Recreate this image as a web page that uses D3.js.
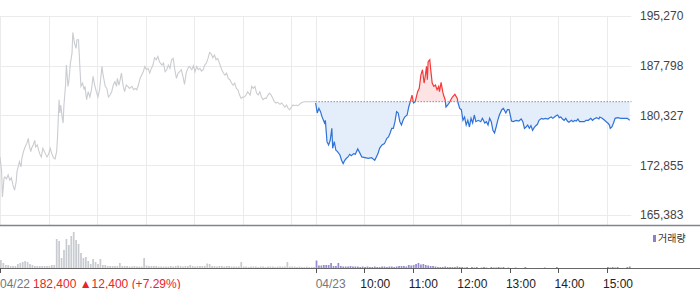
<!DOCTYPE html>
<html>
<head>
<meta charset="utf-8">
<title>intraday</title>
<script src="https://d3js.org/d3.v7.min.js"></script>
<style>
  body { margin: 0; background: #fff; }
  svg { display: block; font-family: "Liberation Sans", Arial, sans-serif; }
</style>
</head>
<body>
<div id="chart"></div>
<script>
// ---------------- data ----------------
const priceTicks = [165383, 172855, 180327, 187798, 195270];
const basePrice = 182400;              // dotted reference line (04/22 close)
const hourLabels = ["10:00", "11:00", "12:00", "13:00", "14:00", "15:00"];
const dayLabels = ["04/22", "04/23"];
const summaryText = "182,400 \u25B212,400 (+7.29%)";
const volumeLegend = "거래량";

// minutes after 09:00, 04/22
const day1Min = [0,2,3,5,6,8,10,12,14,16,18,20,21,24,26,27,29,31,33,35,36,38,39,41,43,44,46,48,49,51,
  53,56,58,60,62,64,66,68,70,71,73,74,75,77,78,79,81,82,84,85,87,89,90,92,94,95,97,99,100,102,
  104,105,107,109,111,113,115,117,119,121,123,126,127,130,132,134,136,138,140,142,144,145,147,148,150,152,154,156,158,160,
  163,165,167,169,171,173,175,177,179,181,183,185,187,189,191,193,195,197,200,202,204,206,208,210,212,214,216,218,220,222,
  224,226,228,230,232,234,237,239,241,243,245,247,249,251,253,255,257,259,261,263,265,267,269,272,274,276,278,280,282,284,
  286,288,290,292,294,296,298,300,302,304,306,309,311,313,315,317,319,321,323,325,327,329,331,333,335,337,339,341,343,346,
  348,350,352,354,356,358,360,362,364,366,368,370,372,374,376,389,390];
const day1Price = [174100,171900,168100,170900,171100,170800,171400,170600,171000,169900,169100,170400,171900,173400,172600,173900,174900,175600,176100,176900,175900,174900,175400,175900,176600,175600,175900,175000,174600,174100,
  175400,174600,174100,174500,175400,174600,174000,173800,174900,176900,182700,180700,181900,179900,179200,181900,184900,187900,184700,185400,188200,189700,192800,191200,190400,191700,191700,186900,184700,185200,
  184200,184700,182700,183900,183100,184200,186200,184900,183900,183100,184200,187700,186700,184700,184400,183100,183400,183900,184900,185400,184700,185900,184900,185400,186700,184900,183900,184900,184700,184400,
  184700,184200,184400,184200,184900,185900,186400,186900,187700,187200,187400,186700,187400,187900,189000,188700,189200,188400,187900,188200,186900,187200,187900,187400,188700,188900,187200,185900,186700,186900,
  187200,186200,185000,186700,187400,187700,187200,187800,186900,187700,187200,187400,187000,187200,187900,188200,188900,189800,189600,189000,189400,188700,188900,187900,187200,186700,186400,186700,185900,185700,
  185200,184900,185200,184400,184200,183400,182900,183100,183100,183400,183900,183400,184700,184400,184700,183700,183400,183900,183100,182700,182900,182900,183400,183700,183400,182900,182400,182200,182300,182000,
  182200,181900,181600,181900,181400,181200,181600,181900,181800,181900,181800,182000,182200,182300,182400,182400,182400];

// minutes after 09:00, 04/23
const day2Min = [0,2,4,6,8,11,12,14,16,18,20,21,23,25,27,30,32,34,36,38,40,42,44,47,49,52,55,57,61,65,
  69,73,75,77,79,82,85,88,90,92,94,96,98,100,102,104,106,108,110,113,115,117,119,121,123,126,128,130,132,134,
  135,137,138,139,141,142,144,146,148,150,152,153,155,157,158,160,161,163,165,167,169,172,175,176,178,180,182,184,186,188,
  190,192,194,196,198,201,204,206,209,211,213,215,217,219,221,223,225,227,230,232,235,237,239,242,244,248,251,254,256,258,
  260,262,264,266,268,270,272,274,276,279,281,284,287,289,291,293,295,297,299,301,303,305,307,309,311,313,316,318,320,322,
  324,326,329,332,334,337,340,342,344,347,350,351,354,357,359,361,363,364,366,368,370,373,377,381,385,388];
const day2Price = [182200,180700,181400,180900,180100,179200,179600,176400,175900,176600,178400,175400,176400,175100,174900,174400,173600,173100,173600,173900,174100,174500,174300,174600,174500,175300,174600,174100,174000,173900,
  174000,173600,174100,174600,175400,175900,176100,176900,177100,177700,178400,178400,179400,180900,180700,179400,178900,179600,180100,180400,181600,182400,183400,182200,182400,183900,184400,186400,187200,185200,
  185900,187700,185700,188400,188700,187400,185200,184700,184900,184200,184700,183900,185300,183900,183400,182700,181600,181900,182200,182700,183100,183500,182900,182200,181400,181200,179600,180100,178900,179600,
  178600,179900,179200,180400,179400,179600,179400,179900,179200,179400,178900,179900,179400,178100,177700,178600,179600,180400,181200,181400,180700,181200,181200,179500,179400,179600,179500,179800,179400,178400,
  178600,178900,178400,178800,178100,178500,178800,179000,179600,179900,179800,179900,179800,180000,180100,179900,180100,180300,180400,180000,180100,179800,179600,179900,179500,179300,179600,179400,179600,179500,
  179800,179400,179400,179400,179600,179600,179900,179600,179800,180000,179800,180100,179900,179600,179400,179200,178900,178400,178600,179200,179900,180000,179900,179900,179900,179600];

// volume, 3-minute bins
const day1Vol = [8,5,3,3,2,2,2,4,5,6, 7,6,4,3,2,2,2,2,2,2, 2,3,3,29,27,10,18,29,23,32,
  36,28,24,15,10,11,7,4,9,6, 4,9,3,3,2,2,2,2,2,5, 2,2,2,1.5,1.5,2,1.5,1.5,1.5,10,
  2.5,2,2,2,2,1.5,1.5,1.5,1.5,1.5, 2,1.5,2,2.5,2,1.5,2,2,3,2, 1.5,2,2,2,2,4.5,4,2,2,1.5,
  2,2,1.5,2,2,1.5,1.5,1.5,1.5,6, 1.5,1.5,1,1.5,1.5,1.5,1,1.5,1.5,1, 1.5,1.5,1.5,1,1.5,1.5,1.5,1.5,6,1.5,
  1.5,1.5,1,1.5,1,1,1.5,1,1,1];
const day2Vol = [7.5,2.5,2.5,3,3,3,5,2,2,5, 2,1.5,1.5,1.5,2,1.5,1.5,1.5,1,1.5, 1,1.5,1,1,1.5,1,1,1.5,1.5,1,
  1.5,1.5,1,1.5,2,2,2,1.5,3,2.5, 3,4,5,3.5,4,3,2.5,2,2,1.5, 1,1,1,1.5,1,1,1,1,1.5,1,
  1,0.5,1,0,1,0.5,1,0,0.5,1, 0.5,0,1,0.5,0.5,1,0.5,1,0,0.5, 0,0,0.5,0,0,0,1,0,0,0,
  0,0,0,0,0.5,0,0,0,0,1, 0,0,0,0,0,0,0,0,0,0, 0,0,0,0,0,0,0,0,0,0,
  1,0.5,1,0.5,1,0,0,0,1,1.5];

// ---------------- layout ----------------
const width = 700, height = 289;
const plotRight = 631.3;
const priceTop = 16, priceBottom = 215, panelBottom = 225;
const volBase = 268, volTop = 230;
const dayLen = 390, binMin = 3;

const svg = d3.select("#chart").append("svg")
  .attr("width", width).attr("height", height);

const x = d3.scaleLinear().domain([0, dayLen * 2]).range([0, plotRight]);
const y = d3.scaleLinear().domain([priceTicks[0], priceTicks[priceTicks.length - 1]])
  .range([priceBottom, priceTop]);
const yVol = d3.scaleLinear().domain([0, 38]).range([volBase, volTop]);

const d1 = day1Min.map((m, i) => ({ t: m, p: day1Price[i] }));
const d2 = day2Min.map((m, i) => ({ t: m + dayLen, p: day2Price[i] }));

// ---------------- grid ----------------
const vGrid = d3.range(0, dayLen, 60).concat([dayLen]).concat(d3.range(dayLen + 60, dayLen * 2, 60));
svg.append("g").selectAll("line").data(vGrid).join("line")
  .attr("x1", d => Math.round(x(d)) + 0.5).attr("x2", d => Math.round(x(d)) + 0.5)
  .attr("y1", priceTop).attr("y2", panelBottom)
  .attr("stroke", "#ebebeb");

svg.append("g").selectAll("line").data(priceTicks).join("line")
  .attr("x1", 0).attr("x2", plotRight)
  .attr("y1", d => Math.round(y(d)) + 0.5).attr("y2", d => Math.round(y(d)) + 0.5)
  .attr("stroke", "#ebebeb");

// right price labels
const yAxis = d3.axisRight(y).tickValues(priceTicks).tickFormat(d3.format(",")).tickSize(0).tickPadding(0);
const ya = svg.append("g").attr("transform", "translate(640,0)").call(yAxis);
ya.select(".domain").remove();
ya.selectAll("text").attr("fill", "#444").style("font-size", "12px")
  .style("font-family", "'Liberation Sans', Arial, sans-serif");

// ---------------- price lines ----------------
const yBase = y(basePrice);
const defs = svg.append("defs");
defs.append("clipPath").attr("id", "clipUp").append("rect")
  .attr("x", 0).attr("y", 0).attr("width", width).attr("height", yBase);
defs.append("clipPath").attr("id", "clipDown").append("rect")
  .attr("x", 0).attr("y", yBase).attr("width", width).attr("height", panelBottom - yBase);

const line = d3.line().x(d => x(d.t)).y(d => y(d.p));
const area = d3.area().x(d => x(d.t)).y0(yBase).y1(d => y(d.p));

svg.append("path").datum(d2).attr("d", area).attr("fill", "#e4edfa").attr("clip-path", "url(#clipDown)");
svg.append("path").datum(d2).attr("d", area).attr("fill", "#fde3e3").attr("clip-path", "url(#clipUp)");

svg.append("line")
  .attr("x1", x(dayLen)).attr("x2", x(dayLen * 2))
  .attr("y1", yBase).attr("y2", yBase)
  .attr("stroke", "#555").attr("stroke-dasharray", "1,2");

svg.append("path").datum(d1).attr("d", line)
  .attr("fill", "none").attr("stroke", "#c9ccd1").attr("stroke-width", 1.1);

svg.append("path").datum(d2).attr("d", line)
  .attr("fill", "none").attr("stroke", "#2f72d8").attr("stroke-width", 1.2)
  .attr("clip-path", "url(#clipDown)");
svg.append("path").datum(d2).attr("d", line)
  .attr("fill", "none").attr("stroke", "#f23a3a").attr("stroke-width", 1.2)
  .attr("clip-path", "url(#clipUp)");

// panel separator
svg.append("line").attr("x1", 0).attr("x2", width)
  .attr("y1", panelBottom + 0.5).attr("y2", panelBottom + 0.5)
  .attr("stroke", "#80858b").attr("stroke-width", 1.5);

// ---------------- volume ----------------
const barW = x(binMin) - x(0) - 0.7;
svg.append("g").selectAll("rect").data(day1Vol).join("rect")
  .attr("x", (d, i) => x(i * binMin)).attr("width", barW)
  .attr("y", d => yVol(d)).attr("height", d => volBase - yVol(d))
  .attr("fill", "#c8cbd0");
svg.append("g").selectAll("rect").data(day2Vol).join("rect")
  .attr("x", (d, i) => x(dayLen + i * binMin)).attr("width", barW)
  .attr("y", d => yVol(d)).attr("height", d => volBase - yVol(d))
  .attr("fill", "#9a8bd0");

// legend
svg.append("rect").attr("x", 653).attr("y", 235).attr("width", 3).attr("height", 7).attr("fill", "#8f7fc8");
svg.append("text").attr("x", 658).attr("y", 242)
  .style("font-family", "'Noto Sans CJK KR', sans-serif").style("font-size", "10px")
  .attr("fill", "#333").text(volumeLegend);

// ---------------- time axis ----------------
svg.append("line").attr("x1", 0).attr("x2", width)
  .attr("y1", volBase + 0.5).attr("y2", volBase + 0.5)
  .attr("stroke", "#666");

const tickMins = [0, dayLen].concat(d3.range(dayLen + 60, dayLen * 2, 60));
svg.append("g").selectAll("line").data(tickMins).join("line")
  .attr("x1", d => Math.round(x(d)) + 0.5).attr("x2", d => Math.round(x(d)) + 0.5)
  .attr("y1", volBase).attr("y2", volBase + 5)
  .attr("stroke", "#555");

svg.append("g").selectAll("text").data(dayLabels).join("text")
  .attr("x", (d, i) => x(i * dayLen)).attr("y", 287.5)
  .attr("fill", "#777").style("font-size", "12px").text(d => d);

svg.append("text").attr("x", 33).attr("y", 287.5)
  .attr("fill", "#e8242a").style("font-size", "12px").text(summaryText);

svg.append("g").selectAll("text").data(hourLabels).join("text")
  .attr("x", (d, i) => x(dayLen + 60 * (i + 1)) - 4).attr("y", 287.5)
  .attr("fill", "#222").style("font-size", "12px").text(d => d);
</script>
</body>
</html>
